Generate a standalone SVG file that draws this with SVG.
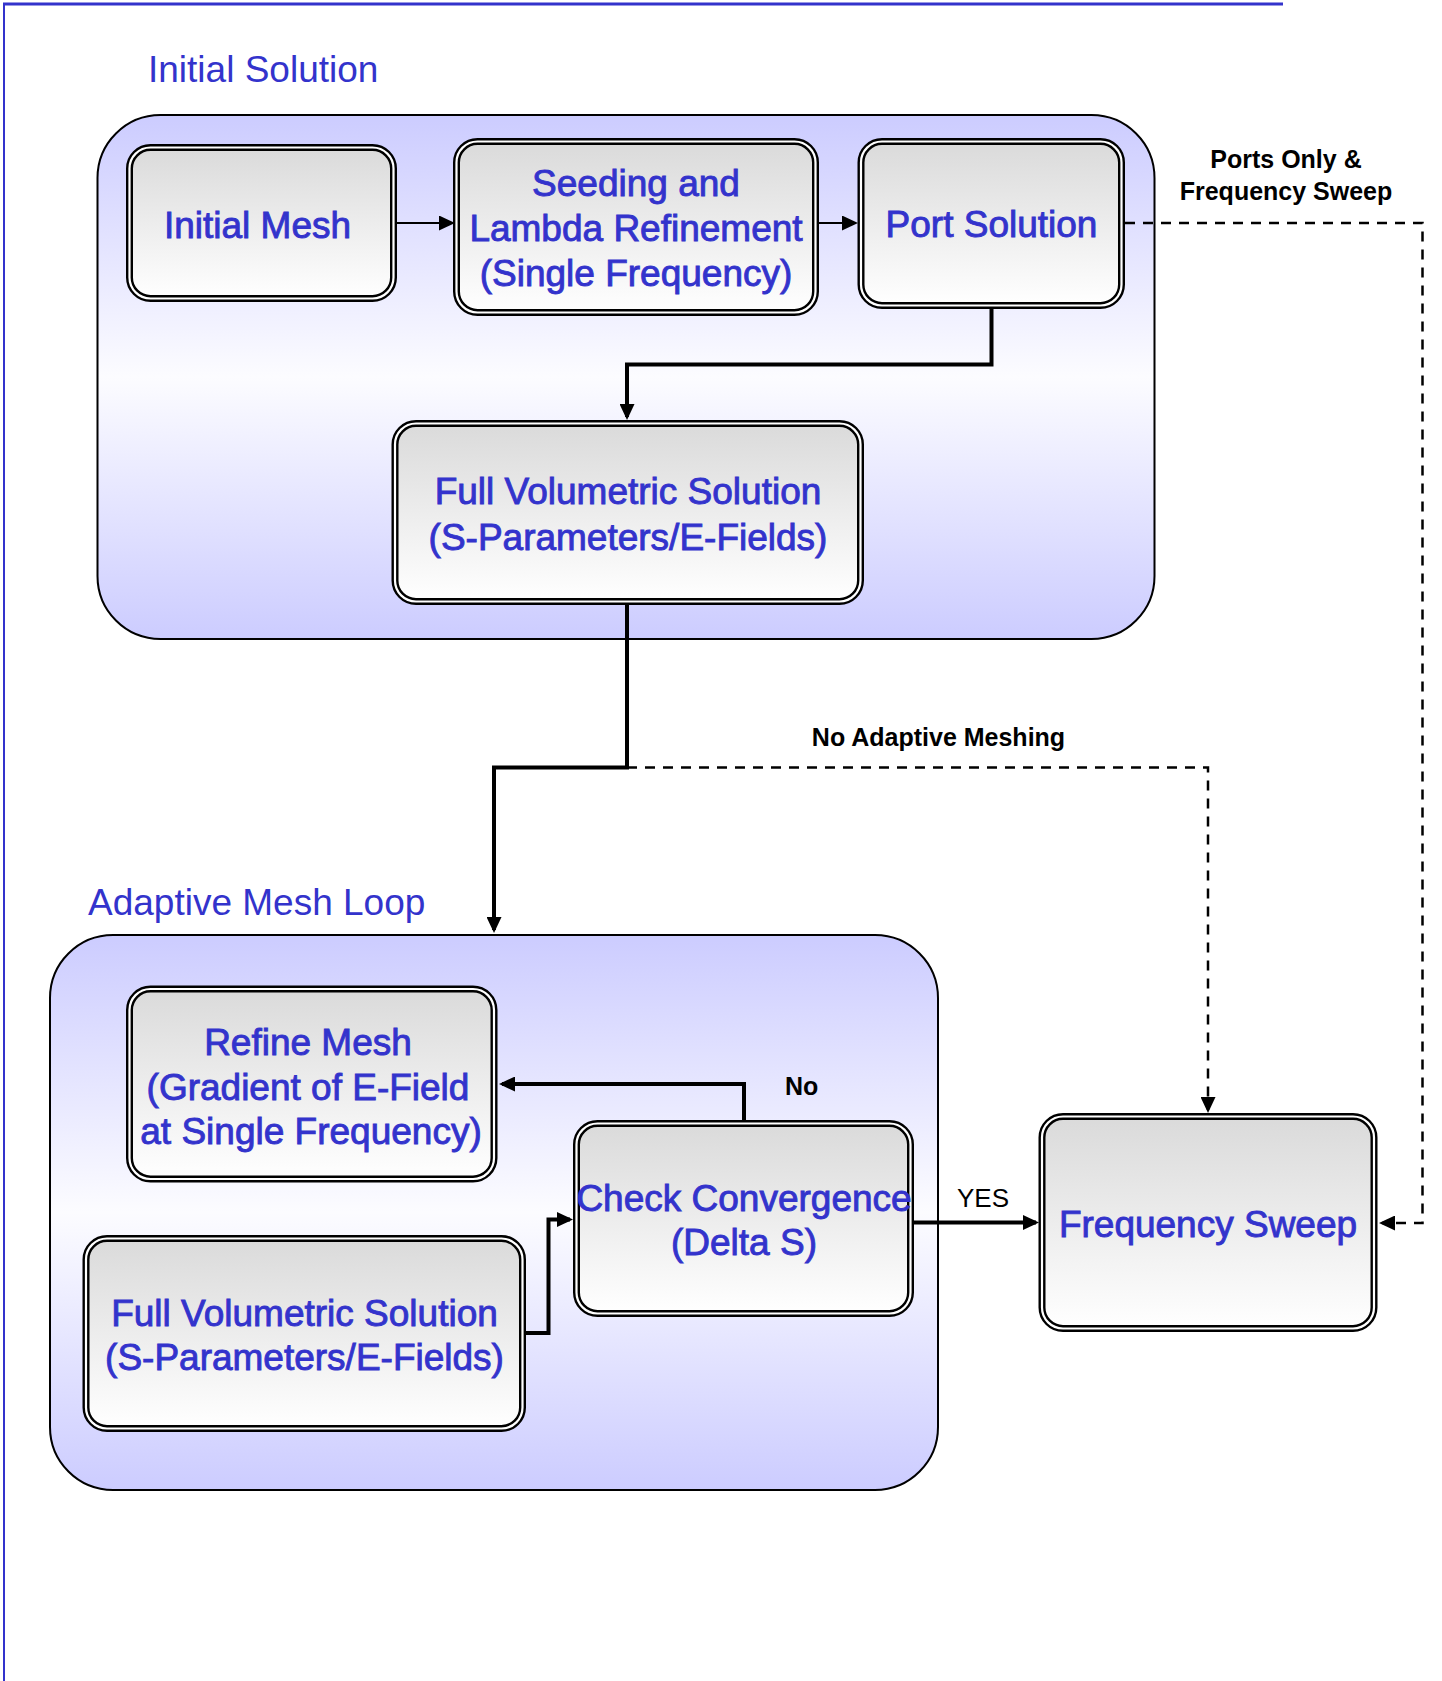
<svg xmlns="http://www.w3.org/2000/svg" width="1442" height="1681" viewBox="0 0 1442 1681">
<style>
  .frame { stroke:#3333CC; fill:none; }
  .grp { fill:url(#gg); stroke:#000; stroke-width:2; }
  .nb { fill:url(#ng); stroke:#000; stroke-width:7; }
  .nw { fill:none; stroke:#fff; stroke-width:2.2; }
  .t { font-family:"Liberation Sans", Arial, sans-serif; font-size:37px; fill:#3333CC; stroke:#3333CC; stroke-width:0.9; text-anchor:middle; }
  .h { font-family:"Liberation Sans", Arial, sans-serif; font-size:37px; fill:#3333CC; }
  .lb { font-family:"Liberation Sans", Arial, sans-serif; font-size:25px; font-weight:bold; fill:#000; }
  .thin { fill:none; stroke:#000; stroke-width:2; marker-end:url(#ah); }
  .thick { fill:none; stroke:#000; stroke-width:4; marker-end:url(#ah); }
  .dash { fill:none; stroke:#000; stroke-width:2.5; stroke-dasharray:10 8; marker-end:url(#ah); }
</style>
<defs>
  <linearGradient id="gg" x1="0" y1="0" x2="0" y2="1">
    <stop offset="0" stop-color="#CCCCFF"/>
    <stop offset="0.5" stop-color="#FCFCFF"/>
    <stop offset="1" stop-color="#CCCCFF"/>
  </linearGradient>
  <linearGradient id="ng" x1="0" y1="0" x2="0" y2="1">
    <stop offset="0" stop-color="#DADADA"/>
    <stop offset="1" stop-color="#FFFFFF"/>
  </linearGradient>
  <marker id="ah" markerUnits="userSpaceOnUse" markerWidth="16" markerHeight="15" refX="13" refY="7.5" orient="auto" viewBox="0 0 16 15">
    <path d="M0,0 L16,7.5 L0,15 z" fill="#000"/>
  </marker>
</defs>

<g id="frame">
  <line class="frame" x1="3" y1="4" x2="1283" y2="4" stroke-width="3"/>
  <line class="frame" x1="4" y1="3" x2="4" y2="1681" stroke-width="2"/>
</g>

<g id="group-initial-solution">
  <rect class="grp" x="97.5" y="115" width="1057" height="524" rx="63" ry="63"/>
  <text class="h" x="148" y="82">Initial Solution</text>
</g>
<g id="group-adaptive-mesh-loop">
  <rect class="grp" x="50" y="935" width="888" height="555" rx="63" ry="63"/>
  <text class="h" x="88" y="915">Adaptive Mesh Loop</text>
</g>

<g id="connectors">
  <path class="thin" d="M397,223 H452"/>
  <path class="thin" d="M819,223 H855"/>
  <path class="dash" d="M627,767.5 H1208 V1110"/>
  <path class="dash" d="M1125,223 H1422.5 V1223 H1382"/>
  <path class="thick" d="M991.5,309 V364.5 H627 V417"/>
  <path class="thick" d="M627,605 V767.5 H494 V930"/>
  <path class="thick" d="M744,1120 V1084 H502"/>
  <path class="thick" d="M526,1333 H548.5 V1219.5 H570"/>
  <path class="thick" d="M914,1222.5 H1036"/>
  <text class="lb" x="1286" y="167.5" text-anchor="middle">Ports Only &amp;</text>
  <text class="lb" x="1286" y="200" text-anchor="middle">Frequency Sweep</text>
  <text class="lb" x="938.5" y="745.5" text-anchor="middle">No Adaptive Meshing</text>
  <text class="lb" x="785" y="1095">No</text>
  <text class="lb" x="957" y="1207" style="font-weight:normal;font-size:26px">YES</text>
</g>

<g id="node-initial-mesh">
  <rect class="nb" x="129.5" y="147.5" width="264" height="151" rx="21"/>
  <rect class="nw" x="129.5" y="147.5" width="264" height="151" rx="21"/>
  <text class="t" x="257.5" y="237.5">Initial Mesh</text>
</g>
<g id="node-seeding">
  <rect class="nb" x="456.5" y="141.5" width="359" height="171" rx="21"/>
  <rect class="nw" x="456.5" y="141.5" width="359" height="171" rx="21"/>
  <text class="t" x="636" y="195.5">Seeding and</text>
  <text class="t" x="636" y="240.5">Lambda Refinement</text>
  <text class="t" x="636" y="285.5">(Single Frequency)</text>
</g>
<g id="node-port-solution">
  <rect class="nb" x="861" y="141.5" width="260.5" height="164" rx="21"/>
  <rect class="nw" x="861" y="141.5" width="260.5" height="164" rx="21"/>
  <text class="t" x="991.5" y="237">Port Solution</text>
</g>
<g id="node-full-volumetric-1">
  <rect class="nb" x="395" y="423.5" width="465.5" height="178" rx="21"/>
  <rect class="nw" x="395" y="423.5" width="465.5" height="178" rx="21"/>
  <text class="t" x="628" y="503.5">Full Volumetric Solution</text>
  <text class="t" x="628" y="550">(S-Parameters/E-Fields)</text>
</g>
<g id="node-refine-mesh">
  <rect class="nb" x="129.5" y="989" width="364.5" height="190" rx="21"/>
  <rect class="nw" x="129.5" y="989" width="364.5" height="190" rx="21"/>
  <text class="t" x="308" y="1055">Refine Mesh</text>
  <text class="t" x="308" y="1099.5">(Gradient of E-Field</text>
  <text class="t" x="311" y="1143.5">at Single Frequency)</text>
</g>
<g id="node-check-convergence">
  <rect class="nb" x="576.5" y="1123.5" width="334" height="190" rx="21"/>
  <rect class="nw" x="576.5" y="1123.5" width="334" height="190" rx="21"/>
  <text class="t" x="744" y="1210.5">Check Convergence</text>
  <text class="t" x="744" y="1255">(Delta S)</text>
</g>
<g id="node-full-volumetric-2">
  <rect class="nb" x="86" y="1238.5" width="436.5" height="190" rx="21"/>
  <rect class="nw" x="86" y="1238.5" width="436.5" height="190" rx="21"/>
  <text class="t" x="304.5" y="1326">Full Volumetric Solution</text>
  <text class="t" x="304.5" y="1370">(S-Parameters/E-Fields)</text>
</g>
<g id="node-frequency-sweep">
  <rect class="nb" x="1042" y="1116.5" width="332" height="212" rx="21"/>
  <rect class="nw" x="1042" y="1116.5" width="332" height="212" rx="21"/>
  <text class="t" x="1208" y="1236.5">Frequency Sweep</text>
</g>
</svg>
